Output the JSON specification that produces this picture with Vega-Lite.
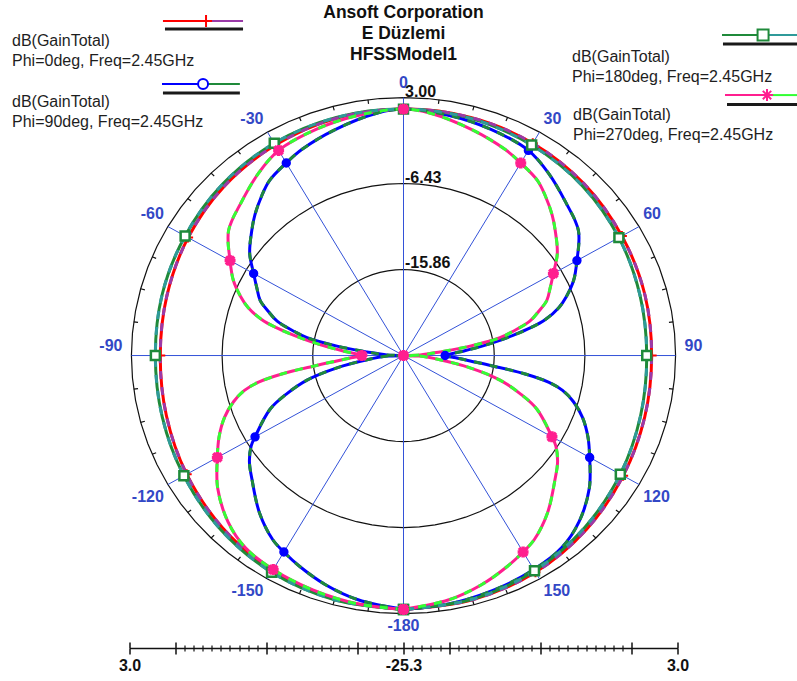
{
"$schema": "https://vega.github.io/schema/vega-lite/v6.json",
"width": 548, "height": 648,
"autosize": {"type": "none"},
"padding": {"left": 129.5, "right": 119.5, "top": 0, "bottom": 33},
"background": "white",
"config": {"view": {"stroke": null}, "font": "Liberation Sans"},
"datasets": {
"curves": [
{"phi":"0","theta":-180,"g":2.55},{"phi":"0","theta":-165,"g":2.38},{"phi":"0","theta":-150,"g":1.95},{"phi":"0","theta":-135,"g":1.36},{"phi":"0","theta":-120,"g":0.74},{"phi":"0","theta":-105,"g":0.23},{"phi":"0","theta":-90,"g":0.0},{"phi":"0","theta":-75,"g":0.17},{"phi":"0","theta":-60,"g":0.57},{"phi":"0","theta":-45,"g":1.02},{"phi":"0","theta":-30,"g":1.36},{"phi":"0","theta":-15,"g":1.64},{"phi":"0","theta":0,"g":1.73},{"phi":"0","theta":15,"g":1.73},{"phi":"0","theta":30,"g":1.59},{"phi":"0","theta":45,"g":1.30},{"phi":"0","theta":60,"g":0.93},{"phi":"0","theta":75,"g":0.68},{"phi":"0","theta":90,"g":0.51},{"phi":"0","theta":105,"g":0.68},{"phi":"0","theta":120,"g":1.08},{"phi":"0","theta":135,"g":1.64},{"phi":"0","theta":150,"g":2.15},{"phi":"0","theta":165,"g":2.43},{"phi":"0","theta":180,"g":2.55},
{"phi":"90","theta":-180,"g":2.55},{"phi":"90","theta":-170,"g":1.90},{"phi":"90","theta":-162,"g":1.10},{"phi":"90","theta":-155,"g":0.23},{"phi":"90","theta":-150,"g":-0.42},{"phi":"90","theta":-146,"g":-0.96},{"phi":"90","theta":-139,"g":-2.46},{"phi":"90","theta":-131,"g":-4.44},{"phi":"90","theta":-126,"g":-5.49},{"phi":"90","theta":-122,"g":-6.62},{"phi":"90","theta":-120,"g":-7.47},{"phi":"90","theta":-113,"g":-10.22},{"phi":"90","theta":-109,"g":-12.48},{"phi":"90","theta":-105,"g":-14.91},{"phi":"90","theta":-101,"g":-18.25},{"phi":"90","theta":-97,"g":-21.48},{"phi":"90","theta":-92,"g":-23.60},{"phi":"90","theta":-90,"g":-25.3},{"phi":"90","theta":-88,"g":-23.57},{"phi":"90","theta":-84,"g":-21.48},{"phi":"90","theta":-81.5,"g":-18.31},{"phi":"90","theta":-79,"g":-15.08},{"phi":"90","theta":-77,"g":-13.70},{"phi":"90","theta":-74,"g":-11.63},{"phi":"90","theta":-71,"g":-10.44},{"phi":"90","theta":-68,"g":-9.23},{"phi":"90","theta":-64,"g":-8.32},{"phi":"90","theta":-60,"g":-7.30},{"phi":"90","theta":-55,"g":-5.77},{"phi":"90","theta":-49,"g":-4.39},{"phi":"90","theta":-45,"g":-3.45},{"phi":"90","theta":-40,"g":-2.38},{"phi":"90","theta":-36,"g":-1.58},{"phi":"90","theta":-30,"g":-0.91},{"phi":"90","theta":-25,"g":-0.34},{"phi":"90","theta":-16,"g":0.48},{"phi":"90","theta":-6,"g":1.42},{"phi":"90","theta":0,"g":1.73},{"phi":"90","theta":10,"g":1.47},{"phi":"90","theta":20,"g":1.13},{"phi":"90","theta":30,"g":0.68},{"phi":"90","theta":37,"g":-0.25},{"phi":"90","theta":45,"g":-1.47},{"phi":"90","theta":53,"g":-2.52},{"phi":"90","theta":60,"g":-4.47},{"phi":"90","theta":65,"g":-5.77},{"phi":"90","theta":69,"g":-7.13},{"phi":"90","theta":72,"g":-8.32},{"phi":"90","theta":75,"g":-10.02},{"phi":"90","theta":77,"g":-11.72},{"phi":"90","theta":79,"g":-13.70},{"phi":"90","theta":81,"g":-15.54},{"phi":"90","theta":83,"g":-17.23},{"phi":"90","theta":86,"g":-19.36},{"phi":"90","theta":90,"g":-20.97},{"phi":"90","theta":93,"g":-19.64},{"phi":"90","theta":95,"g":-18.23},{"phi":"90","theta":97,"g":-15.96},{"phi":"90","theta":99,"g":-12.57},{"phi":"90","theta":101,"g":-9.88},{"phi":"90","theta":103,"g":-8.32},{"phi":"90","theta":106,"g":-6.91},{"phi":"90","theta":110,"g":-5.49},{"phi":"90","theta":115,"g":-4.13},{"phi":"90","theta":120,"g":-2.94},{"phi":"90","theta":127,"g":-1.10},{"phi":"90","theta":135,"g":0.51},{"phi":"90","theta":142,"g":1.44},{"phi":"90","theta":150,"g":1.81},{"phi":"90","theta":160,"g":2.09},{"phi":"90","theta":170,"g":2.35},{"phi":"90","theta":180,"g":2.55},
{"phi":"180","theta":-180,"g":2.55},{"phi":"180","theta":-165,"g":2.43},{"phi":"180","theta":-150,"g":2.15},{"phi":"180","theta":-135,"g":1.64},{"phi":"180","theta":-120,"g":1.08},{"phi":"180","theta":-105,"g":0.68},{"phi":"180","theta":-90,"g":0.51},{"phi":"180","theta":-75,"g":0.68},{"phi":"180","theta":-60,"g":0.93},{"phi":"180","theta":-45,"g":1.30},{"phi":"180","theta":-30,"g":1.59},{"phi":"180","theta":-15,"g":1.73},{"phi":"180","theta":0,"g":1.73},{"phi":"180","theta":15,"g":1.64},{"phi":"180","theta":30,"g":1.36},{"phi":"180","theta":45,"g":1.02},{"phi":"180","theta":60,"g":0.57},{"phi":"180","theta":75,"g":0.17},{"phi":"180","theta":90,"g":0.0},{"phi":"180","theta":105,"g":0.23},{"phi":"180","theta":120,"g":0.74},{"phi":"180","theta":135,"g":1.36},{"phi":"180","theta":150,"g":1.95},{"phi":"180","theta":165,"g":2.38},{"phi":"180","theta":180,"g":2.55},
{"phi":"270","theta":-180,"g":2.55},{"phi":"270","theta":-170,"g":2.35},{"phi":"270","theta":-160,"g":2.09},{"phi":"270","theta":-150,"g":1.81},{"phi":"270","theta":-142,"g":1.44},{"phi":"270","theta":-135,"g":0.51},{"phi":"270","theta":-127,"g":-1.10},{"phi":"270","theta":-120,"g":-2.94},{"phi":"270","theta":-115,"g":-4.13},{"phi":"270","theta":-110,"g":-5.49},{"phi":"270","theta":-106,"g":-6.91},{"phi":"270","theta":-103,"g":-8.32},{"phi":"270","theta":-101,"g":-9.88},{"phi":"270","theta":-99,"g":-12.57},{"phi":"270","theta":-97,"g":-15.96},{"phi":"270","theta":-95,"g":-18.23},{"phi":"270","theta":-93,"g":-19.64},{"phi":"270","theta":-90,"g":-20.97},{"phi":"270","theta":-86,"g":-19.36},{"phi":"270","theta":-83,"g":-17.23},{"phi":"270","theta":-81,"g":-15.54},{"phi":"270","theta":-79,"g":-13.70},{"phi":"270","theta":-77,"g":-11.72},{"phi":"270","theta":-75,"g":-10.02},{"phi":"270","theta":-72,"g":-8.32},{"phi":"270","theta":-69,"g":-7.13},{"phi":"270","theta":-65,"g":-5.77},{"phi":"270","theta":-60,"g":-4.47},{"phi":"270","theta":-53,"g":-2.52},{"phi":"270","theta":-45,"g":-1.47},{"phi":"270","theta":-37,"g":-0.25},{"phi":"270","theta":-30,"g":0.68},{"phi":"270","theta":-20,"g":1.13},{"phi":"270","theta":-10,"g":1.47},{"phi":"270","theta":0,"g":1.73},{"phi":"270","theta":6,"g":1.42},{"phi":"270","theta":16,"g":0.48},{"phi":"270","theta":25,"g":-0.34},{"phi":"270","theta":30,"g":-0.91},{"phi":"270","theta":36,"g":-1.58},{"phi":"270","theta":40,"g":-2.38},{"phi":"270","theta":45,"g":-3.45},{"phi":"270","theta":49,"g":-4.39},{"phi":"270","theta":55,"g":-5.77},{"phi":"270","theta":60,"g":-7.30},{"phi":"270","theta":64,"g":-8.32},{"phi":"270","theta":68,"g":-9.23},{"phi":"270","theta":71,"g":-10.44},{"phi":"270","theta":74,"g":-11.63},{"phi":"270","theta":77,"g":-13.70},{"phi":"270","theta":79,"g":-15.08},{"phi":"270","theta":81.5,"g":-18.31},{"phi":"270","theta":84,"g":-21.48},{"phi":"270","theta":88,"g":-23.57},{"phi":"270","theta":90,"g":-25.3},{"phi":"270","theta":92,"g":-23.60},{"phi":"270","theta":97,"g":-21.48},{"phi":"270","theta":101,"g":-18.25},{"phi":"270","theta":105,"g":-14.91},{"phi":"270","theta":109,"g":-12.48},{"phi":"270","theta":113,"g":-10.22},{"phi":"270","theta":120,"g":-7.47},{"phi":"270","theta":122,"g":-6.62},{"phi":"270","theta":126,"g":-5.49},{"phi":"270","theta":131,"g":-4.44},{"phi":"270","theta":139,"g":-2.46},{"phi":"270","theta":146,"g":-0.96},{"phi":"270","theta":150,"g":-0.42},{"phi":"270","theta":155,"g":0.23},{"phi":"270","theta":162,"g":1.10},{"phi":"270","theta":170,"g":1.90},{"phi":"270","theta":180,"g":2.55}
],
"rings": [
{"lev": -15.86, "t": "-15.86", "a": [0,5,10,15,20,25,30,35,40,45,50,55,60,65,70,75,80,85,90,95,100,105,110,115,120,125,130,135,140,145,150,155,160,165,170,175,180,185,190,195,200,205,210,215,220,225,230,235,240,245,250,255,260,265,270,275,280,285,290,295,300,305,310,315,320,325,330,335,340,345,350,355,360]},
{"lev": -6.43, "t": "-6.43", "a": [0,5,10,15,20,25,30,35,40,45,50,55,60,65,70,75,80,85,90,95,100,105,110,115,120,125,130,135,140,145,150,155,160,165,170,175,180,185,190,195,200,205,210,215,220,225,230,235,240,245,250,255,260,265,270,275,280,285,290,295,300,305,310,315,320,325,330,335,340,345,350,355,360]},
{"lev": 3.0, "t": "3.00", "a": [0,5,10,15,20,25,30,35,40,45,50,55,60,65,70,75,80,85,90,95,100,105,110,115,120,125,130,135,140,145,150,155,160,165,170,175,180,185,190,195,200,205,210,215,220,225,230,235,240,245,250,255,260,265,270,275,280,285,290,295,300,305,310,315,320,325,330,335,340,345,350,355,360]}
],
"spokes": [{"a": [0,30,60,90,120,150,180,210,240,270,300,330]}],
"rimticks": [{"a": [7.5,15,22.5,37.5,45,52.5,67.5,75,82.5,97.5,105,112.5,127.5,135,142.5,157.5,165,172.5,187.5,195,202.5,217.5,225,232.5,247.5,255,262.5,277.5,285,292.5,307.5,315,322.5,337.5,345,352.5]}],
"anglabels": [{"a":0,"t":"0"},{"a":30,"t":"30"},{"a":60,"t":"60"},{"a":90,"t":"90"},{"a":120,"t":"120"},{"a":150,"t":"150"},{"a":-180,"t":"-180"},{"a":-150,"t":"-150"},{"a":-120,"t":"-120"},{"a":-90,"t":"-90"},{"a":-60,"t":"-60"},{"a":-30,"t":"-30"}]
},
"resolve": {"scale": {"color": "independent"}, "axis": {"x": "independent"}},
"layer": [
{"data": {"name": "rings"},
 "transform": [{"flatten": ["a"]}, {"calculate": "(datum.lev + 25.3) * sin(datum.a * PI / 180)", "as": "X"}, {"calculate": "(datum.lev + 25.3) * cos(datum.a * PI / 180)", "as": "Y"}],
 "mark": {"type": "line", "stroke": "#111111", "strokeWidth": 1.2},
 "encoding": {
  "x": {"field": "X", "type": "quantitative", "scale": {"domain": [-28.5, 28.5], "nice": false, "zero": false},
   "axis": {"orient": "bottom", "offset": 0, "values": [-28.5,-23.75,-14.25,-4.75,0,4.75,14.25,23.75,28.5], "labelExpr": "datum.value == 0 ? '-25.3' : (abs(datum.value) > 28 ? '3.0' : '')", "labelFlush": false, "labelOverlap": false, "labelBound": false, "labelFontSize": 16, "labelFontWeight": "bold", "labelColor": "#111111", "labelPadding": 3, "tickSize": 6, "tickWidth": 1.5, "tickColor": "#111111", "domain": true, "domainColor": "#111111", "domainWidth": 1.5, "grid": false, "title": null}},
  "y": {"field": "Y", "type": "quantitative", "scale": {"domain": [-32.08, 39.0], "nice": false, "zero": false}, "axis": null},
  "detail": {"field": "lev", "type": "nominal"},
  "order": {"field": "a", "type": "quantitative"}}},
{"data": {"name": "rimticks"},
 "transform": [{"flatten": ["a"]}, {"calculate": "28.3 * sin(datum.a * PI / 180)", "as": "X"}, {"calculate": "28.3 * cos(datum.a * PI / 180)", "as": "Y"}, {"calculate": "27.85 * sin(datum.a * PI / 180)", "as": "X2"}, {"calculate": "27.85 * cos(datum.a * PI / 180)", "as": "Y2"}],
 "mark": {"type": "rule", "stroke": "#111111", "strokeWidth": 1.2},
 "encoding": {
  "x": {"field": "X", "type": "quantitative", "scale": {"domain": [-28.5, 28.5], "nice": false, "zero": false},
   "axis": {"orient": "top", "offset": -648, "values": [-28.5,-23.75,-14.25,-4.75,0,4.75,14.25,23.75,28.5], "labels": false, "domain": false, "tickSize": 6, "tickWidth": 1.5, "tickColor": "#111111", "grid": false, "title": null}},
  "y": {"field": "Y", "type": "quantitative", "scale": {"domain": [-32.08, 39.0], "nice": false, "zero": false}, "axis": null},
  "x2": {"field": "X2"}, "y2": {"field": "Y2"}}},
{"data": {"name": "spokes"},
 "transform": [{"flatten": ["a"]}, {"calculate": "28.3 * sin(datum.a * PI / 180)", "as": "X"}, {"calculate": "28.3 * cos(datum.a * PI / 180)", "as": "Y"}],
 "mark": {"type": "rule", "stroke": "#3352d8", "strokeWidth": 1},
 "encoding": {
  "x": {"field": "X", "type": "quantitative", "scale": {"domain": [-28.5, 28.5], "nice": false, "zero": false}, "axis": null},
  "y": {"field": "Y", "type": "quantitative", "scale": {"domain": [-32.08, 39.0], "nice": false, "zero": false}, "axis": null},
  "x2": {"datum": 0}, "y2": {"datum": 0}}},
{"data": {"name": "curves"},
 "transform": [{"calculate": "(datum.g + 25.3) * sin(datum.theta * PI / 180)", "as": "X"}, {"calculate": "(datum.g + 25.3) * cos(datum.theta * PI / 180)", "as": "Y"}],
 "mark": {"type": "line", "strokeWidth": 3, "interpolate": "catmull-rom"},
 "encoding": {
  "x": {"field": "X", "type": "quantitative", "scale": {"domain": [-28.5, 28.5], "nice": false, "zero": false},
   "axis": {"orient": "bottom", "offset": 0, "values": [-22.8,-21.85,-20.9,-19.95,-19.0,-18.05,-17.1,-16.15,-15.2,-13.3,-12.35,-11.4,-10.45,-9.5,-8.55,-7.6,-6.65,-5.7,-3.8,-2.85,-1.9,-0.95,0.95,1.9,2.85,3.8,5.7,6.65,7.6,8.55,9.5,10.45,11.4,12.35,13.3,15.2,16.15,17.1,18.05,19.0,19.95,20.9,21.85,22.8], "labels": false, "domain": false, "tickSize": 3, "tickWidth": 1.2, "tickColor": "#111111", "grid": false, "title": null}},
  "y": {"field": "Y", "type": "quantitative", "scale": {"domain": [-32.08, 39.0], "nice": false, "zero": false}, "axis": null},
  "color": {"field": "phi", "type": "nominal", "scale": {"domain": ["0","90","180","270"], "range": ["#ff0000","#0000ff","#1f8a3a","#ff1f8f"]}, "legend": null},
  "order": {"field": "theta", "type": "quantitative"}}},
{"data": {"name": "curves"},
 "transform": [{"calculate": "(datum.g + 25.3) * sin(datum.theta * PI / 180)", "as": "X"}, {"calculate": "(datum.g + 25.3) * cos(datum.theta * PI / 180)", "as": "Y"}],
 "mark": {"type": "line", "strokeWidth": 3, "interpolate": "catmull-rom", "strokeDash": [8, 8]},
 "encoding": {
  "x": {"field": "X", "type": "quantitative", "scale": {"domain": [-28.5, 28.5], "nice": false, "zero": false},
   "axis": {"orient": "top", "offset": -648, "values": [-22.8,-21.85,-20.9,-19.95,-19.0,-18.05,-17.1,-16.15,-15.2,-13.3,-12.35,-11.4,-10.45,-9.5,-8.55,-7.6,-6.65,-5.7,-3.8,-2.85,-1.9,-0.95,0.95,1.9,2.85,3.8,5.7,6.65,7.6,8.55,9.5,10.45,11.4,12.35,13.3,15.2,16.15,17.1,18.05,19.0,19.95,20.9,21.85,22.8], "labels": false, "domain": false, "tickSize": 3, "tickWidth": 1.2, "tickColor": "#111111", "grid": false, "title": null}},
  "y": {"field": "Y", "type": "quantitative", "scale": {"domain": [-32.08, 39.0], "nice": false, "zero": false}, "axis": null},
  "color": {"field": "phi", "type": "nominal", "scale": {"domain": ["0","90","180","270"], "range": ["#9a3aa8","#1f8a3a","#2f9a9a","#33ff33"]}, "legend": null},
  "order": {"field": "theta", "type": "quantitative"}}},
{"data": {"name": "curves"},
 "transform": [{"filter": "datum.phi == '0' && datum.theta % 30 == 0"}, {"calculate": "(datum.g + 25.3) * sin(datum.theta * PI / 180)", "as": "X"}, {"calculate": "(datum.g + 25.3) * cos(datum.theta * PI / 180)", "as": "Y"}],
 "mark": {"type": "point", "shape": "M-1,0L1,0M0,-1L0,1", "size": 100, "stroke": "#ff0000", "strokeWidth": 2, "filled": false, "opacity": 1},
 "encoding": {
  "x": {"field": "X", "type": "quantitative", "scale": {"domain": [-28.5, 28.5], "nice": false, "zero": false}, "axis": null},
  "y": {"field": "Y", "type": "quantitative", "scale": {"domain": [-32.08, 39.0], "nice": false, "zero": false}, "axis": null}}},
{"data": {"name": "curves"},
 "transform": [{"filter": "datum.phi == '90' && datum.theta % 30 == 0"}, {"calculate": "(datum.g + 25.3) * sin(datum.theta * PI / 180)", "as": "X"}, {"calculate": "(datum.g + 25.3) * cos(datum.theta * PI / 180)", "as": "Y"}],
 "mark": {"type": "point", "shape": "circle", "size": 62, "fill": "#0000ff", "stroke": "#0000ff", "strokeWidth": 1.5, "filled": true, "opacity": 1},
 "encoding": {
  "x": {"field": "X", "type": "quantitative", "scale": {"domain": [-28.5, 28.5], "nice": false, "zero": false}, "axis": null},
  "y": {"field": "Y", "type": "quantitative", "scale": {"domain": [-32.08, 39.0], "nice": false, "zero": false}, "axis": null}}},
{"data": {"name": "curves"},
 "transform": [{"filter": "datum.phi == '180' && datum.theta % 30 == 0"}, {"calculate": "(datum.g + 25.3) * sin(datum.theta * PI / 180)", "as": "X"}, {"calculate": "(datum.g + 25.3) * cos(datum.theta * PI / 180)", "as": "Y"}],
 "mark": {"type": "point", "shape": "square", "size": 80, "fill": "#ffffff", "stroke": "#1f8a3a", "strokeWidth": 2.5, "filled": true, "opacity": 1},
 "encoding": {
  "x": {"field": "X", "type": "quantitative", "scale": {"domain": [-28.5, 28.5], "nice": false, "zero": false}, "axis": null},
  "y": {"field": "Y", "type": "quantitative", "scale": {"domain": [-32.08, 39.0], "nice": false, "zero": false}, "axis": null}}},
{"data": {"name": "curves"},
 "transform": [{"filter": "datum.phi == '270' && datum.theta % 30 == 0"}, {"calculate": "(datum.g + 25.3) * sin(datum.theta * PI / 180)", "as": "X"}, {"calculate": "(datum.g + 25.3) * cos(datum.theta * PI / 180)", "as": "Y"}],
 "mark": {"type": "point", "shape": "M-1,0L1,0M0,-1L0,1M-0.75,-0.75L0.75,0.75M-0.75,0.75L0.75,-0.75", "size": 120, "stroke": "#ff1f8f", "strokeWidth": 3.5, "filled": false, "opacity": 1},
 "encoding": {
  "x": {"field": "X", "type": "quantitative", "scale": {"domain": [-28.5, 28.5], "nice": false, "zero": false}, "axis": null},
  "y": {"field": "Y", "type": "quantitative", "scale": {"domain": [-32.08, 39.0], "nice": false, "zero": false}, "axis": null}}},
{"data": {"name": "rings"},
 "transform": [{"calculate": "datum.lev + 25.3", "as": "Y"}],
 "mark": {"type": "text", "align": "left", "baseline": "alphabetic", "dx": 1.5, "dy": -1, "fontSize": 16, "fontWeight": "bold", "color": "#111111"},
 "encoding": {
  "x": {"datum": 0, "type": "quantitative", "axis": null},
  "y": {"field": "Y", "type": "quantitative", "scale": {"domain": [-32.08, 39.0], "nice": false, "zero": false}, "axis": null},
  "text": {"field": "t", "type": "nominal"}}},
{"data": {"name": "anglabels"},
 "transform": [{"calculate": "28.3 * sin(datum.a * PI / 180)", "as": "X"}, {"calculate": "28.3 * cos(datum.a * PI / 180)", "as": "Y"}],
 "mark": {"type": "text", "baseline": "alphabetic", "fontSize": 16, "fontWeight": "bold", "color": "#3348c6",
  "align": {"expr": "datum.a == 0 || datum.a == -180 ? 'center' : (datum.a > 0 ? 'left' : 'right')"},
  "dx": {"expr": "datum.a == 0 || datum.a == -180 ? 0 : (abs(datum.a) == 90 ? 9 : 4) * (datum.a > 0 ? 1 : -1)"},
  "dy": {"expr": "datum.a == 0 ? -9.5 : (abs(datum.a) < 90 ? -8 : (abs(datum.a) == 90 ? -5 : 17))"}},
 "encoding": {
  "x": {"field": "X", "type": "quantitative", "scale": {"domain": [-28.5, 28.5], "nice": false, "zero": false}, "axis": null},
  "y": {"field": "Y", "type": "quantitative", "scale": {"domain": [-32.08, 39.0], "nice": false, "zero": false}, "axis": null},
  "text": {"field": "t", "type": "nominal"}}},
{"data": {"values": [{}]},
 "mark": {"type": "text", "align": "center", "baseline": "alphabetic", "fontSize": 17.5, "fontWeight": "bold", "lineHeight": 20.8, "color": "#111111"},
 "encoding": {"x": {"datum": 0, "type": "quantitative", "axis": null}, "y": {"datum": 36.99, "type": "quantitative", "axis": null},
  "text": {"value": ["Ansoft Corporation", "E Düzlemi", "HFSSModel1"]}}},

{"data": {"values": [{}]}, "mark": {"type": "rule", "stroke": "#ff0000", "strokeWidth": 2},
 "encoding": {"x": {"datum": -25.02, "type": "quantitative", "axis": null}, "x2": {"datum": -20.65}, "y": {"datum": 36.69, "type": "quantitative", "axis": null}}},
{"data": {"values": [{}]}, "mark": {"type": "rule", "stroke": "#9a3aa8", "strokeWidth": 2},
 "encoding": {"x": {"datum": -20.65, "type": "quantitative", "axis": null}, "x2": {"datum": -16.69}, "y": {"datum": 36.69, "type": "quantitative", "axis": null}}},
{"data": {"values": [{}]}, "mark": {"type": "rule", "stroke": "#1a1a1a", "strokeWidth": 3},
 "encoding": {"x": {"datum": -24.81, "type": "quantitative", "axis": null}, "x2": {"datum": -16.69}, "y": {"datum": 35.81, "type": "quantitative", "axis": null}}},
{"data": {"values": [{}]}, "mark": {"type": "point", "shape": "M-1,0L1,0M0,-1L0,1", "size": 144, "stroke": "#ff0000", "strokeWidth": 2, "filled": false, "opacity": 1},
 "encoding": {"x": {"datum": -20.54, "type": "quantitative", "axis": null}, "y": {"datum": 36.69, "type": "quantitative", "axis": null}}},
{"data": {"values": [{}]}, "mark": {"type": "text", "align": "left", "baseline": "alphabetic", "fontSize": 16, "lineHeight": 20, "color": "#1e1e1e"},
 "encoding": {"x": {"datum": -40.72, "type": "quantitative", "axis": null}, "y": {"datum": 34.0, "type": "quantitative", "axis": null}, "text": {"value": ["dB(GainTotal)", "Phi=0deg, Freq=2.45GHz"]}}},

{"data": {"values": [{}]}, "mark": {"type": "rule", "stroke": "#0000ff", "strokeWidth": 2},
 "encoding": {"x": {"datum": -25.12, "type": "quantitative", "axis": null}, "x2": {"datum": -21.17}, "y": {"datum": 29.78, "type": "quantitative", "axis": null}}},
{"data": {"values": [{}]}, "mark": {"type": "rule", "stroke": "#1f8a3a", "strokeWidth": 2},
 "encoding": {"x": {"datum": -20.54, "type": "quantitative", "axis": null}, "x2": {"datum": -17.02}, "y": {"datum": 29.78, "type": "quantitative", "axis": null}}},
{"data": {"values": [{}]}, "mark": {"type": "rule", "stroke": "#1a1a1a", "strokeWidth": 3},
 "encoding": {"x": {"datum": -25.02, "type": "quantitative", "axis": null}, "x2": {"datum": -17.02}, "y": {"datum": 28.79, "type": "quantitative", "axis": null}}},
{"data": {"values": [{}]}, "mark": {"type": "point", "shape": "circle", "size": 100, "stroke": "#0000ff", "fill": "#ffffff", "strokeWidth": 2, "filled": true, "opacity": 1},
 "encoding": {"x": {"datum": -20.85, "type": "quantitative", "axis": null}, "y": {"datum": 29.78, "type": "quantitative", "axis": null}}},
{"data": {"values": [{}]}, "mark": {"type": "text", "align": "left", "baseline": "alphabetic", "fontSize": 16, "lineHeight": 20, "color": "#1e1e1e"},
 "encoding": {"x": {"datum": -40.72, "type": "quantitative", "axis": null}, "y": {"datum": 27.26, "type": "quantitative", "axis": null}, "text": {"value": ["dB(GainTotal)", "Phi=90deg, Freq=2.45GHz"]}}},

{"data": {"values": [{}]}, "mark": {"type": "rule", "stroke": "#1f8a3a", "strokeWidth": 2},
 "encoding": {"x": {"datum": 33.13, "type": "quantitative", "axis": null}, "x2": {"datum": 36.77}, "y": {"datum": 35.16, "type": "quantitative", "axis": null}}},
{"data": {"values": [{}]}, "mark": {"type": "rule", "stroke": "#2f9a9a", "strokeWidth": 2},
 "encoding": {"x": {"datum": 38.02, "type": "quantitative", "axis": null}, "x2": {"datum": 41.0}, "y": {"datum": 35.16, "type": "quantitative", "axis": null}}},
{"data": {"values": [{}]}, "mark": {"type": "rule", "stroke": "#1a1a1a", "strokeWidth": 3},
 "encoding": {"x": {"datum": 33.23, "type": "quantitative", "axis": null}, "x2": {"datum": 41.0}, "y": {"datum": 34.17, "type": "quantitative", "axis": null}}},
{"data": {"values": [{}]}, "mark": {"type": "point", "shape": "square", "size": 121, "stroke": "#1f8a3a", "fill": "#ffffff", "strokeWidth": 2, "filled": true, "opacity": 1},
 "encoding": {"x": {"datum": 37.4, "type": "quantitative", "axis": null}, "y": {"datum": 35.16, "type": "quantitative", "axis": null}}},
{"data": {"values": [{}]}, "mark": {"type": "text", "align": "left", "baseline": "alphabetic", "fontSize": 16, "lineHeight": 20, "color": "#1e1e1e"},
 "encoding": {"x": {"datum": 17.53, "type": "quantitative", "axis": null}, "y": {"datum": 32.19, "type": "quantitative", "axis": null}, "text": {"value": ["dB(GainTotal)", "Phi=180deg, Freq=2.45GHz"]}}},

{"data": {"values": [{}]}, "mark": {"type": "rule", "stroke": "#ff1f8f", "strokeWidth": 2},
 "encoding": {"x": {"datum": 33.44, "type": "quantitative", "axis": null}, "x2": {"datum": 37.6}, "y": {"datum": 28.57, "type": "quantitative", "axis": null}}},
{"data": {"values": [{}]}, "mark": {"type": "rule", "stroke": "#33ff33", "strokeWidth": 2},
 "encoding": {"x": {"datum": 37.81, "type": "quantitative", "axis": null}, "x2": {"datum": 41.0}, "y": {"datum": 28.57, "type": "quantitative", "axis": null}}},
{"data": {"values": [{}]}, "mark": {"type": "rule", "stroke": "#1a1a1a", "strokeWidth": 3},
 "encoding": {"x": {"datum": 33.65, "type": "quantitative", "axis": null}, "x2": {"datum": 41.0}, "y": {"datum": 27.55, "type": "quantitative", "axis": null}}},
{"data": {"values": [{}]}, "mark": {"type": "point", "shape": "M-1,0L1,0M0,-1L0,1M-0.7,-0.7L0.7,0.7M-0.7,0.7L0.7,-0.7", "size": 144, "stroke": "#ff1f8f", "strokeWidth": 2, "filled": false, "opacity": 1},
 "encoding": {"x": {"datum": 37.81, "type": "quantitative", "axis": null}, "y": {"datum": 28.57, "type": "quantitative", "axis": null}}},
{"data": {"values": [{}]}, "mark": {"type": "text", "align": "left", "baseline": "alphabetic", "fontSize": 16, "lineHeight": 20, "color": "#1e1e1e"},
 "encoding": {"x": {"datum": 17.63, "type": "quantitative", "axis": null}, "y": {"datum": 25.83, "type": "quantitative", "axis": null}, "text": {"value": ["dB(GainTotal)", "Phi=270deg, Freq=2.45GHz"]}}}
]
}
